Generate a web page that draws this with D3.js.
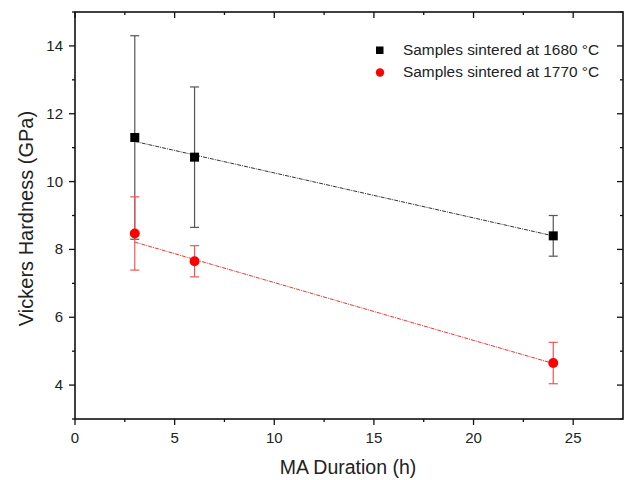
<!DOCTYPE html>
<html>
<head>
<meta charset="utf-8">
<script src="https://cdn.jsdelivr.net/npm/d3@7"></script>
<style>
  body { margin: 0; background: #fff; }
  text { font-family: "Liberation Sans", Arial, sans-serif; fill: #222; }
</style>
</head>
<body>
<svg id="chart" width="630" height="480"></svg>
<script>
// MA duration (h)
const durations = [3, 6, 24];
// Vickers hardness (GPa), mean and error
const hv1680 = [11.3, 10.72, 8.4];
const err1680 = [3.0, 2.07, 0.6];
const hv1770 = [8.47, 7.65, 4.65];
const err1770 = [1.08, 0.46, 0.61];
const seriesNames = ["Samples sintered at 1680 \u00B0C", "Samples sintered at 1770 \u00B0C"];

const svg = d3.select("#chart");
const margin = {left: 75, top: 12, right: 7, bottom: 61};
const W = 630 - margin.left - margin.right;
const H = 480 - margin.top - margin.bottom;

const x = d3.scaleLinear().domain([0, 27.5]).range([0, W]);
const y = d3.scaleLinear().domain([3, 15]).range([H, 0]);

const g = svg.append("g").attr("transform", `translate(${margin.left},${margin.top})`);

// weighted linear fit (weights 1/err^2)
function fit(xs, ys, es) {
  let w = es.map(e => 1 / (e * e));
  let sw = d3.sum(w);
  let mx = d3.sum(xs.map((v, i) => v * w[i])) / sw;
  let my = d3.sum(ys.map((v, i) => v * w[i])) / sw;
  let sxy = 0, sxx = 0;
  xs.forEach((v, i) => { sxy += w[i] * (v - mx) * (ys[i] - my); sxx += w[i] * (v - mx) * (v - mx); });
  let b = sxy / sxx;
  return t => my + b * (t - mx);
}

// axes
const majorX = [0, 5, 10, 15, 20, 25];
const minorX = [2.5, 7.5, 12.5, 17.5, 22.5];
const majorY = [4, 6, 8, 10, 12, 14];
const minorY = [3, 5, 7, 9, 11, 13, 15];

const axisCol = "#111";
// bottom
g.selectAll(".xmaj").data(majorX).join("line")
  .attr("x1", d => x(d)).attr("x2", d => x(d)).attr("y1", H).attr("y2", H + 6)
  .attr("stroke", axisCol).attr("stroke-width", 1.3);
g.selectAll(".xmin").data(minorX).join("line")
  .attr("x1", d => x(d)).attr("x2", d => x(d)).attr("y1", H).attr("y2", H + 3)
  .attr("stroke", axisCol).attr("stroke-width", 1.3);
g.selectAll(".xlab").data(majorX).join("text")
  .attr("x", d => x(d)).attr("y", H + 24).attr("text-anchor", "middle")
  .attr("font-size", 15).text(d => d);
// top (inward)
g.selectAll(".xtop").data(majorX.concat(minorX)).join("line")
  .attr("x1", d => x(d)).attr("x2", d => x(d)).attr("y1", 0)
  .attr("y2", d => majorX.includes(d) ? 6 : 3)
  .attr("stroke", axisCol).attr("stroke-width", 1.3);
// left
g.selectAll(".ymaj").data(majorY).join("line")
  .attr("x1", -6).attr("x2", 0).attr("y1", d => y(d)).attr("y2", d => y(d))
  .attr("stroke", axisCol).attr("stroke-width", 1.3);
g.selectAll(".ymin").data(minorY).join("line")
  .attr("x1", -3).attr("x2", 0).attr("y1", d => y(d)).attr("y2", d => y(d))
  .attr("stroke", axisCol).attr("stroke-width", 1.3);
g.selectAll(".ylab").data(majorY).join("text")
  .attr("x", -12).attr("y", d => y(d) + 5).attr("text-anchor", "end")
  .attr("font-size", 15).text(d => d);
// right (inward)
g.selectAll(".yright").data(majorY.concat(minorY)).join("line")
  .attr("x1", d => majorY.includes(d) ? W - 6 : W - 3).attr("x2", W)
  .attr("y1", d => y(d)).attr("y2", d => y(d))
  .attr("stroke", axisCol).attr("stroke-width", 1.3);

g.append("rect").attr("width", W).attr("height", H)
  .attr("fill", "none").attr("stroke", axisCol).attr("stroke-width", 1.6);

// axis titles
g.append("text").attr("x", 273).attr("y", H + 55).attr("text-anchor", "middle")
  .attr("font-size", 19.5).text("MA Duration (h)");
g.append("text").attr("transform", `translate(-42,206.5) rotate(-90)`)
  .attr("text-anchor", "middle").attr("font-size", 20).text("Vickers Hardness (GPa)");

// series
const series = [
  {vals: hv1680, errs: err1680, col: "#000", errCol: "#555", lineCol: "#333", shape: "square"},
  {vals: hv1770, errs: err1770, col: "#f00", errCol: "#e55", lineCol: "#e33", shape: "circle"}
];

series.forEach(s => {
  const f = fit(durations, s.vals, s.errs);
  const x0 = d3.min(durations), x1 = d3.max(durations);
  g.append("line")
    .attr("x1", x(x0)).attr("y1", y(f(x0))).attr("x2", x(x1)).attr("y2", y(f(x1)))
    .attr("stroke", s.lineCol).attr("stroke-width", 1).attr("stroke-dasharray", "4,1,1,1");

  durations.forEach((d, i) => {
    const v = s.vals[i], e = s.errs[i];
    g.append("line").attr("x1", x(d)).attr("x2", x(d))
      .attr("y1", y(v + e)).attr("y2", y(v - e))
      .attr("stroke", s.errCol).attr("stroke-width", 1.2);
    [v + e, v - e].forEach(c => {
      g.append("line").attr("x1", x(d) - 4.5).attr("x2", x(d) + 4.5)
        .attr("y1", y(c)).attr("y2", y(c))
        .attr("stroke", s.errCol).attr("stroke-width", 1.2);
    });
  });
});

series.forEach(s => {
  durations.forEach((d, i) => {
    const v = s.vals[i];
    if (s.shape === "square") {
      g.append("rect").attr("x", x(d) - 4.5).attr("y", y(v) - 4.5)
        .attr("width", 9).attr("height", 9).attr("fill", s.col);
    } else {
      g.append("circle").attr("cx", x(d)).attr("cy", y(v)).attr("r", 5).attr("fill", s.col);
    }
  });
});

// legend
const leg = svg.append("g");
seriesNames.forEach((name, i) => {
  const ly = 50 + i * 22;
  if (series[i].shape === "square") {
    leg.append("rect").attr("x", 376).attr("y", ly - 3.5).attr("width", 7.5).attr("height", 7.5).attr("fill", series[i].col);
  } else {
    leg.append("circle").attr("cx", 380).attr("cy", ly + 0.5).attr("r", 4.2).attr("fill", series[i].col);
  }
  leg.append("text").attr("x", 403).attr("y", ly + 5).attr("font-size", 15.4).text(name);
});
</script>
</body>
</html>
